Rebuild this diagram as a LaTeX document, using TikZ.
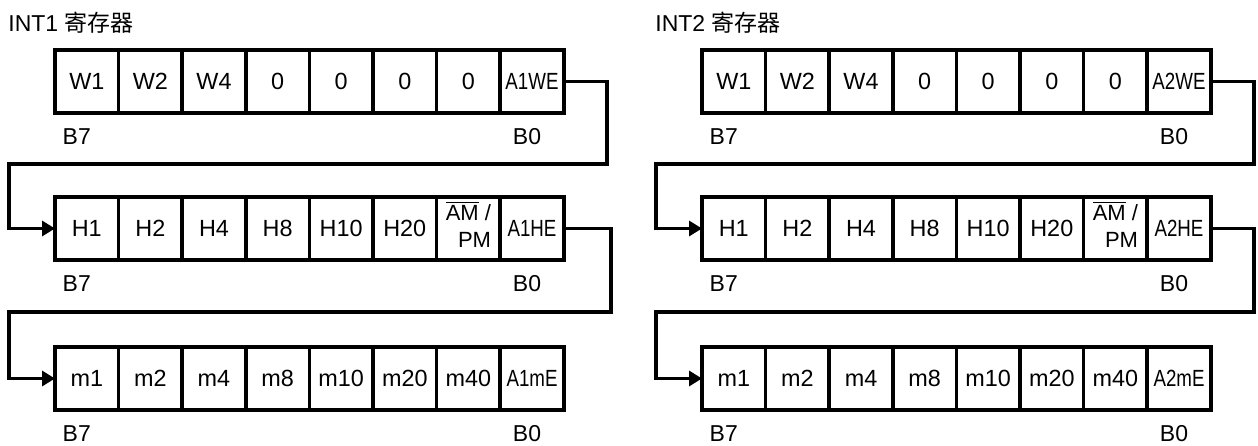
\documentclass[tikz,border=0pt]{standalone}
\usepackage{fontspec}
\setmainfont{Liberation Sans}
\newfontfamily\cjk{Noto Sans CJK SC}
\usepackage{graphicx}
\usepackage{tikz}
\usetikzlibrary{positioning, calc, arrows.meta}
\newcommand{\nrw}[1]{\scalebox{0.8}[1]{#1}}
\newcommand{\ampm}{\raisebox{-1.5pt}{\fontsize{11}{13.5}\selectfont\begin{tabular}{@{}r@{}}$\overline{\mbox{AM}}$ /\\PM\end{tabular}}}
\newcommand{\regrow}[9]{%
	\node[cell, anchor=west] (#1-1) at (#1) {#2};
	\node[cell, right=0pt of #1-1] (#1-2) {#3};
	\node[cell, right=0pt of #1-2] (#1-3) {#4};
	\node[cell, right=0pt of #1-3] (#1-4) {#5};
	\node[cell, right=0pt of #1-4] (#1-5) {#6};
	\node[cell, right=0pt of #1-5] (#1-6) {#7};
	\node[cell, right=0pt of #1-6] (#1-7) {#8};
	\node[cell, right=0pt of #1-7] (#1-8) {#9};
	\node[bitlbl] (#1-b7) at ($(#1-1.south)+(-5pt,-11.8pt)$) {B7};
	\node[bitlbl] (#1-b0) at ($(#1-8.south)+(-2.5pt,-11.8pt)$) {B0};
}

\begin{document}
\begin{tikzpicture}[
	cell/.style={draw, line width=1.8pt, minimum width=31.8pt, minimum height=31.5pt,
		inner sep=0pt, outer sep=0pt, font=\fontsize{11.7}{13}\selectfont},
	bitlbl/.style={inner sep=0pt, font=\fontsize{11.5}{13}\selectfont},
	title/.style={anchor=west, inner sep=0pt, font=\fontsize{11.5}{13}\selectfont},
	link/.style={line width=1.8pt, -{Triangle[length=6.5pt, width=7.5pt]}}
	]
	\useasboundingbox (0pt,0pt) rectangle (629pt,-222.5pt);

	% INT1
	\node[title] (t1) at (4pt,-11.5pt) {INT1 {\cjk 寄存器}};
	\coordinate (iw) at (27.5pt,-40.75pt);
	\coordinate (ih) at (27.5pt,-114.25pt);
	\coordinate (im) at (27.5pt,-189.25pt);
	\regrow{iw}{W1}{W2}{W4}{0}{0}{0}{0}{\nrw{A1WE}}
	\regrow{ih}{H1}{H2}{H4}{H8}{H10}{H20}{\ampm}{\nrw{A1HE}}
	\regrow{im}{m1}{m2}{m4}{m8}{m10}{m20}{m40}{\nrw{A1mE}}
	\coordinate (ik1) at (303.5pt,-82pt);
	\coordinate (ik2) at (4.5pt,-82pt);
	\coordinate (ik3) at (305.5pt,-156pt);
	\coordinate (ik4) at (4.5pt,-156pt);
	\draw[link] (iw-8.east) -| (ik1) -- (ik2) |- (ih-1.west);
	\draw[link] (ih-8.east) -| (ik3) -- (ik4) |- (im-1.west);

	% INT2
	\begin{scope}[xshift=323.5pt]
		\node[title] (t2) at (4pt,-11.5pt) {INT2 {\cjk 寄存器}};
		\coordinate (jw) at (27.5pt,-40.75pt);
		\coordinate (jh) at (27.5pt,-114.25pt);
		\coordinate (jm) at (27.5pt,-189.25pt);
		\regrow{jw}{W1}{W2}{W4}{0}{0}{0}{0}{\nrw{A2WE}}
		\regrow{jh}{H1}{H2}{H4}{H8}{H10}{H20}{\ampm}{\nrw{A2HE}}
		\regrow{jm}{m1}{m2}{m4}{m8}{m10}{m20}{m40}{\nrw{A2mE}}
		\coordinate (jk1) at (303.5pt,-82pt);
		\coordinate (jk2) at (4.5pt,-82pt);
		\coordinate (jk3) at (303.5pt,-156pt);
		\coordinate (jk4) at (4.5pt,-156pt);
		\draw[link] (jw-8.east) -| (jk1) -- (jk2) |- (jh-1.west);
		\draw[link] (jh-8.east) -| (jk3) -- (jk4) |- (jm-1.west);
	\end{scope}
\end{tikzpicture}
\end{document}
